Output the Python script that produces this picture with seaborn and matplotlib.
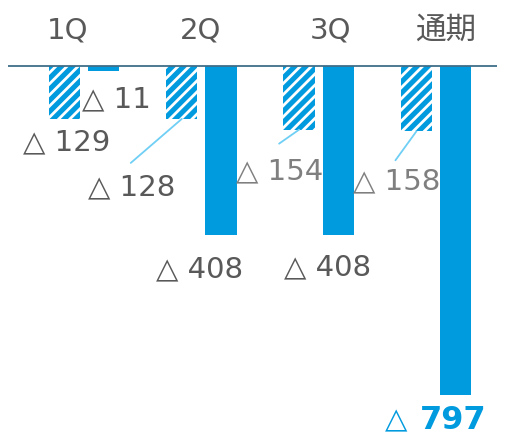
import matplotlib
matplotlib.use("Agg")
import matplotlib.pyplot as plt
import seaborn as sns
import pandas as pd

periods = ["1Q", "2Q", "3Q", "通期"]
hatched_vals = [-129, -128, -154, -158]
solid_vals = [-11, -408, -408, -797]
hatched_labels = ["△ 129", "△ 128", "△ 154", "△ 158"]
solid_labels = ["△ 11", "△ 408", "△ 408", "△ 797"]

BLUE = "#009ade"
GRAY = "#595959"
LGRAY = "#7f7f7f"

sns.set_theme(style="white")
plt.rcParams["font.family"] = ["DejaVu Sans", "Noto Sans CJK JP"]
plt.rcParams["hatch.linewidth"] = 2.0

df = pd.DataFrame({
    "period": periods * 2,
    "kind": ["h"] * 4 + ["s"] * 4,
    "value": hatched_vals + solid_vals,
})

fig = plt.figure(figsize=(5.13, 4.36), dpi=100)
ax = fig.add_axes([8 / 513, 0, (497 - 8) / 513, 1])
sns.barplot(data=df, x="period", y="value", hue="kind", order=periods,
            hue_order=["h", "s"], palette=[BLUE, BLUE], width=0.667, gap=0.2,
            dodge=True, legend=False, ax=ax, linewidth=0, errorbar=None,
            saturation=1)

hbars = ax.patches[:4]
sbars = ax.patches[4:8]
for p in hbars:
    p.set_hatch("///")
    p.set_edgecolor("white")
    p.set_linewidth(0)

ax.set_xlim(-0.648, 3.52)
ax.set_ylim(-896, 160)
ax.axhline(0, color="#3f6e88", lw=1.3, zorder=5)
for s in ax.spines.values():
    s.set_visible(False)
ax.set_xticks([])
ax.set_yticks([])
ax.set_xlabel("")
ax.set_ylabel("")

fs = 21
# category labels at top
cat_off = [-16, -1, 12, 10]
cat_fs = [21, 21, 21, 22]
for i, (name, off) in enumerate(zip(periods, cat_off)):
    ax.annotate(name, xy=(i, 0), xytext=(off, 36), textcoords="offset pixels",
                ha="center", va="center", fontsize=cat_fs[i], color=GRAY)

def center(p):
    return p.get_x() + p.get_width() / 2, p.get_height()

# hatched labels: offsets (px) and whether leader
h_off = [(2, -23), (-50, -68), (-19, -42), (-20, -50)]
h_col = [GRAY, GRAY, LGRAY, LGRAY]
h_leader = [None, (-51, -44), (-20, -14), (-21, -29)]
for i, p in enumerate(hbars):
    x, y = center(p)
    ax.annotate(hatched_labels[i], xy=(x, y), xytext=h_off[i], textcoords="offset pixels",
                ha="center", va="center", fontsize=fs, color=h_col[i])
    if h_leader[i] is not None:
        ax.annotate("", xy=(x, y), xytext=h_leader[i], textcoords="offset pixels",
                    arrowprops=dict(arrowstyle="-", color="#6fcff5", lw=1.3,
                                    shrinkA=0, shrinkB=0))

s_off = [(13, -29), (-21, -35), (-11, -33), (-20, -25)]
for i, p in enumerate(sbars):
    x, y = center(p)
    if i == 3:
        ax.annotate("△", xy=(x, y), xytext=(-59, -25),
                    textcoords="offset pixels", ha="center", va="center",
                    fontsize=fs, color=BLUE)
        ax.annotate("797", xy=(x, y), xytext=(-2, -25),
                    textcoords="offset pixels", ha="center", va="center",
                    fontsize=23, color=BLUE, fontweight="bold")
    else:
        ax.annotate(solid_labels[i], xy=(x, y), xytext=s_off[i], textcoords="offset pixels",
                    ha="center", va="center", fontsize=fs, color=GRAY)

fig.savefig("out.png", dpi=100)
